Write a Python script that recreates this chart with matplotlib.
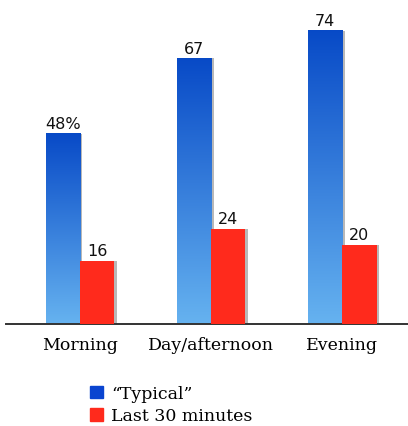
import matplotlib.pyplot as plt
import matplotlib.patches as mpatches
import numpy as np

categories = ['Morning', 'Day/afternoon', 'Evening']
typical = [48, 67, 74]
last30 = [16, 24, 20]
value_labels_typical = ['48%', '67', '74']
value_labels_last30 = ['16', '24', '20']
series_names = ['\u201cTypical\u201d', 'Last 30 minutes']

blue_top = np.array([0.03, 0.29, 0.78])
blue_bottom = np.array([0.40, 0.70, 0.94])
red = '#ff2a1c'
legend_blue = '#0a44d0'

fig = plt.figure(figsize=(4.08, 4.27), dpi=100)
ax = fig.add_axes([6 / 408, 102 / 427, 402 / 408, 325 / 427])

x = np.arange(len(categories))
w = 0.26
sh = 0.018  # shadow offset

# gradient for the blue bars
grad = np.linspace(0, 1, 256)[:, None]
cols = blue_top[None, :] * (1 - grad) + blue_bottom[None, :] * grad
cols = cols[:, None, :]

for i in range(len(categories)):
    # shadows
    ax.bar(x[i] - w / 2 + sh, typical[i], w, color='#b8b8b8', zorder=1)
    ax.bar(x[i] + w / 2 + sh, last30[i], w, color='#b8b8b8', zorder=1)
    # blue gradient bar
    ax.imshow(cols, extent=[x[i] - w, x[i], 0, typical[i]], aspect='auto',
              origin='upper', zorder=2)
    # red bar
    ax.bar(x[i] + w / 2, last30[i], w, color=red, zorder=3)
    ax.text(x[i] - w / 2, typical[i] + 0.6, value_labels_typical[i],
            ha='center', va='bottom', fontsize=11.5, color='#111111',
            family='DejaVu Sans')
    ax.text(x[i] + w / 2, last30[i] + 0.6, value_labels_last30[i],
            ha='center', va='bottom', fontsize=11.5, color='#111111',
            family='DejaVu Sans')

ax.set_xlim(-0.565, 2.50)
ax.set_ylim(0, 82)
for s in ['top', 'right', 'left']:
    ax.spines[s].set_visible(False)
ax.spines['bottom'].set_color('#333333')
ax.spines['bottom'].set_linewidth(1.4)
ax.set_yticks([])
ax.set_xticks(x)
ax.set_xticklabels(categories, family='DejaVu Serif', fontsize=12.5)
ax.tick_params(axis='x', length=0, pad=9)

handles = [mpatches.Patch(color=legend_blue), mpatches.Patch(color=red)]
fig.legend(handles, series_names, loc='upper left',
           bbox_to_anchor=(90 / 408, 1 - 386 / 427), frameon=False,
           prop={'family': 'DejaVu Serif', 'size': 12.5},
           handlelength=0.75, handleheight=0.75, handletextpad=0.45,
           labelspacing=0.3, borderaxespad=0, borderpad=0)

fig.savefig('out.png', dpi=100)
